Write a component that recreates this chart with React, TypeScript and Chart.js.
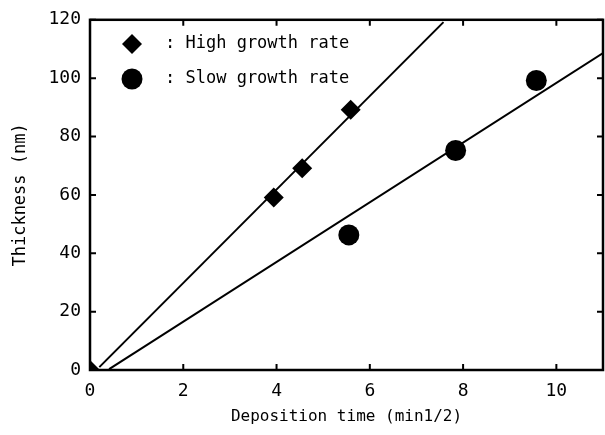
import React, { useEffect, useRef } from 'react';
import { Chart, registerables } from 'chart.js';

Chart.register(...registerables);

const seriesNames = ['High growth rate', 'Slow growth rate'];
const highX = [3.94, 4.55, 5.59];
const highY = [59.1, 69.1, 89.2];
const slowX = [5.55, 7.84, 9.57];
const slowY = [46.3, 75.2, 99.2];
const originX = [0];
const originY = [0];
const highFitX = [0.2, 7.58];
const highFitY = [1.0, 119.2];
const slowFitX = [0.41, 11];
const slowFitY = [0.3, 108.6];
const xTicks = [0, 2, 4, 6, 8, 10];
const yTicks = [0, 20, 40, 60, 80, 100, 120];
const xTitle = 'Deposition time (min1/2)';
const yTitle = 'Thickness (nm)';

const FONT = "'DejaVu Sans Mono', monospace";

const zip = (xs: number[], ys: number[]) => xs.map((x, i) => ({ x, y: ys[i] }));

function drawDiamond(ctx: CanvasRenderingContext2D, x: number, y: number, r: number) {
  ctx.beginPath();
  ctx.moveTo(x - r, y);
  ctx.lineTo(x, y - r);
  ctx.lineTo(x + r, y);
  ctx.lineTo(x, y + r);
  ctx.closePath();
  ctx.fill();
}

const framePlugin = {
  id: 'frameAndLegend',
  afterLayout(chart: any) {
    const target = chart.width - 2;
    const ca = chart.chartArea;
    if (ca.right !== target) {
      ca.right = target;
      ca.width = target - ca.left;
      const xs = chart.scales.x;
      xs.right = target;
      xs.width = target - xs.left;
      xs.configure();
    }
  },
  afterDraw(chart: any) {
    const { ctx, chartArea } = chart;
    const { left, right, top, bottom } = chartArea;
    const xs = chart.scales.x;
    const ys = chart.scales.y;
    ctx.save();
    ctx.strokeStyle = '#000';
    ctx.lineWidth = 2.5;
    ctx.strokeRect(left, top, right - left, bottom - top);
    ctx.lineWidth = 2;
    const tl = 6;
    ctx.beginPath();
    xTicks.forEach((v) => {
      const px = xs.getPixelForValue(v);
      ctx.moveTo(px, bottom);
      ctx.lineTo(px, bottom - tl);
      ctx.moveTo(px, top);
      ctx.lineTo(px, top + tl);
    });
    yTicks.forEach((v) => {
      const py = ys.getPixelForValue(v);
      ctx.moveTo(left, py);
      ctx.lineTo(left + tl, py);
      ctx.moveTo(right, py);
      ctx.lineTo(right - tl, py);
    });
    ctx.stroke();

    // legend
    ctx.fillStyle = '#000';
    const lx = 132;
    const ly = [44, 79];
    drawDiamond(ctx, lx, ly[0], 10);
    ctx.beginPath();
    ctx.arc(lx, ly[1], 10.5, 0, Math.PI * 2);
    ctx.fill();
    ctx.font = `17px ${FONT}`;
    ctx.textBaseline = 'middle';
    ctx.textAlign = 'left';
    seriesNames.forEach((name, i) => {
      ctx.fillText(': ' + name, 165, ly[i]);
    });
    ctx.restore();
  },
};

export default function App() {
  const ref = useRef<HTMLCanvasElement>(null);
  useEffect(() => {
    if (!ref.current) return;
    const chart = new Chart(ref.current, {
      type: 'scatter',
      data: {
        datasets: [
          {
            label: 'High fit',
            data: zip(highFitX, highFitY),
            showLine: true,
            borderColor: '#000',
            borderWidth: 2,
            pointRadius: 0,
          },
          {
            label: 'Slow fit',
            data: zip(slowFitX, slowFitY),
            showLine: true,
            borderColor: '#000',
            borderWidth: 2,
            pointRadius: 0,
          },
          {
            label: seriesNames[0],
            data: zip(highX, highY),
            pointStyle: 'rectRot',
            pointRadius: 10,
            backgroundColor: '#000',
            borderColor: '#000',
            borderWidth: 0,
          },
          {
            label: seriesNames[1],
            data: zip(slowX, slowY),
            pointStyle: 'circle',
            pointRadius: 10.5,
            backgroundColor: '#000',
            borderColor: '#000',
            borderWidth: 0,
          },
          {
            label: 'origin',
            data: zip(originX, originY),
            pointStyle: 'rectRot',
            pointRadius: 10,
            backgroundColor: '#000',
            borderWidth: 0,
            clip: 0,
          } as any,
        ],
      },
      options: {
        animation: false,
        responsive: false,
        maintainAspectRatio: false,
        devicePixelRatio: 1,
        layout: { padding: { left: 0, top: 18, right: 2, bottom: 0 } },
        plugins: { legend: { display: false }, tooltip: { enabled: false } },
        scales: {
          x: {
            type: 'linear',
            min: 0,
            max: 11,
            afterBuildTicks: (s: any) => {
              s.ticks = xTicks.map((v) => ({ value: v }));
            },
            afterFit: (s: any) => {
              s.height = 65;
              s.paddingLeft = 0;
              s.paddingRight = 0;
            },
            grid: { display: false, drawTicks: false },
            border: { display: false },
            ticks: {
              color: '#000',
              padding: 11,
              font: { family: FONT, size: 18 },
              maxRotation: 0,
            },
            title: {
              display: true,
              text: xTitle,
              color: '#000',
              font: { family: FONT, size: 16 },
              padding: { top: 0, bottom: 9 },
            },
          },
          y: {
            type: 'linear',
            min: 0,
            max: 120,
            afterBuildTicks: (s: any) => {
              s.ticks = yTicks.map((v) => ({ value: v }));
            },
            afterFit: (s: any) => {
              s.width = 90;
              s.paddingLeft = 0;
              s.paddingRight = 0;
            },
            grid: { display: false, drawTicks: false },
            border: { display: false },
            ticks: {
              color: '#000',
              padding: 9,
              font: { family: FONT, size: 18 },
            },
            title: {
              display: true,
              text: yTitle,
              color: '#000',
              font: { family: FONT, size: 17 },
              padding: { top: 10, bottom: 0 },
            },
          },
        },
      },
      plugins: [framePlugin],
    });
    return () => chart.destroy();
  }, []);
  return (
    <div style={{ position: 'absolute', left: 0, top: 0, width: 605, height: 435, background: '#fff' }}>
      <canvas ref={ref} width={605} height={435} style={{ width: 605, height: 435 }} />
    </div>
  );
}
